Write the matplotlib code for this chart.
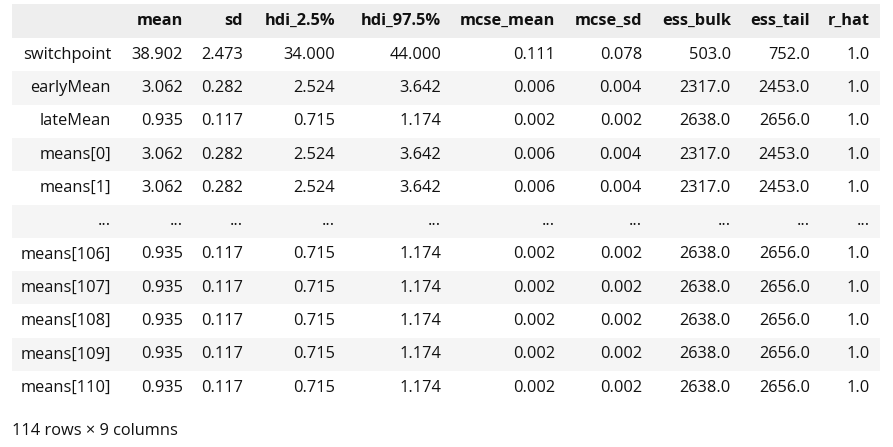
import matplotlib
matplotlib.use('Agg')
import matplotlib.pyplot as plt
from matplotlib.patches import Rectangle

plt.rcParams['font.family'] = ['Open Sans', 'DejaVu Sans']

# table data
columns = ["mean", "sd", "hdi_2.5%", "hdi_97.5%", "mcse_mean", "mcse_sd", "ess_bulk", "ess_tail", "r_hat"]
row_labels = ["switchpoint", "earlyMean", "lateMean", "means[0]", "means[1]", "...",
              "means[106]", "means[107]", "means[108]", "means[109]", "means[110]"]

mean = [38.902, 3.062, 0.935, 3.062, 3.062, None, 0.935, 0.935, 0.935, 0.935, 0.935]
sd = [2.473, 0.282, 0.117, 0.282, 0.282, None, 0.117, 0.117, 0.117, 0.117, 0.117]
hdi_lo = [34.000, 2.524, 0.715, 2.524, 2.524, None, 0.715, 0.715, 0.715, 0.715, 0.715]
hdi_hi = [44.000, 3.642, 1.174, 3.642, 3.642, None, 1.174, 1.174, 1.174, 1.174, 1.174]
mcse_mean = [0.111, 0.006, 0.002, 0.006, 0.006, None, 0.002, 0.002, 0.002, 0.002, 0.002]
mcse_sd = [0.078, 0.004, 0.002, 0.004, 0.004, None, 0.002, 0.002, 0.002, 0.002, 0.002]
ess_bulk = [503.0, 2317.0, 2638.0, 2317.0, 2317.0, None, 2638.0, 2638.0, 2638.0, 2638.0, 2638.0]
ess_tail = [752.0, 2453.0, 2656.0, 2453.0, 2453.0, None, 2656.0, 2656.0, 2656.0, 2656.0, 2656.0]
r_hat = [1.0, 1.0, 1.0, 1.0, 1.0, None, 1.0, 1.0, 1.0, 1.0, 1.0]

values = [mean, sd, hdi_lo, hdi_hi, mcse_mean, mcse_sd, ess_bulk, ess_tail, r_hat]
decimals = [3, 3, 3, 3, 3, 3, 1, 1, 1]
footer = "114 rows × 9 columns"

# layout in pixels
W, H = 893, 447
left, right = 12, 880
header_top, header_bot = 4, 38
row_h = 33.3
index_right = 111
col_right = [183, 243, 335, 441, 555, 642, 731, 810, 870]
fs = 11.8
txt = '#111111'

fig = plt.figure(figsize=(W / 100, H / 100), dpi=100)
ax = fig.add_axes([0, 0, 1, 1])
ax.set_xlim(0, W)
ax.set_ylim(H, 0)
ax.axis('off')

# header
ax.add_patch(Rectangle((left, header_top), right - left, header_bot - header_top,
                       facecolor='#eeeeee', edgecolor='none'))
hy = (header_top + header_bot) / 2
for name, xr in zip(columns, col_right):
    ax.text(xr, hy, name, ha='right', va='center', fontsize=fs, fontweight='bold', color=txt)

# body rows
for i, label in enumerate(row_labels):
    top = header_bot + i * row_h
    if i % 2 == 1:
        ax.add_patch(Rectangle((left, top), right - left, row_h,
                               facecolor='#f5f5f5', edgecolor='none'))
    cy = top + row_h / 2
    ax.text(index_right, cy, label, ha='right', va='center', fontsize=fs, color=txt)
    for col, dec, xr in zip(values, decimals, col_right):
        v = col[i]
        s = "..." if v is None else f"{v:.{dec}f}"
        ax.text(xr, cy, s, ha='right', va='center', fontsize=fs, color=txt)

ax.text(left, header_bot + len(row_labels) * row_h + 27, footer, ha='left', va='center',
        fontsize=fs, color=txt)

fig.savefig('out.png', dpi=100)
